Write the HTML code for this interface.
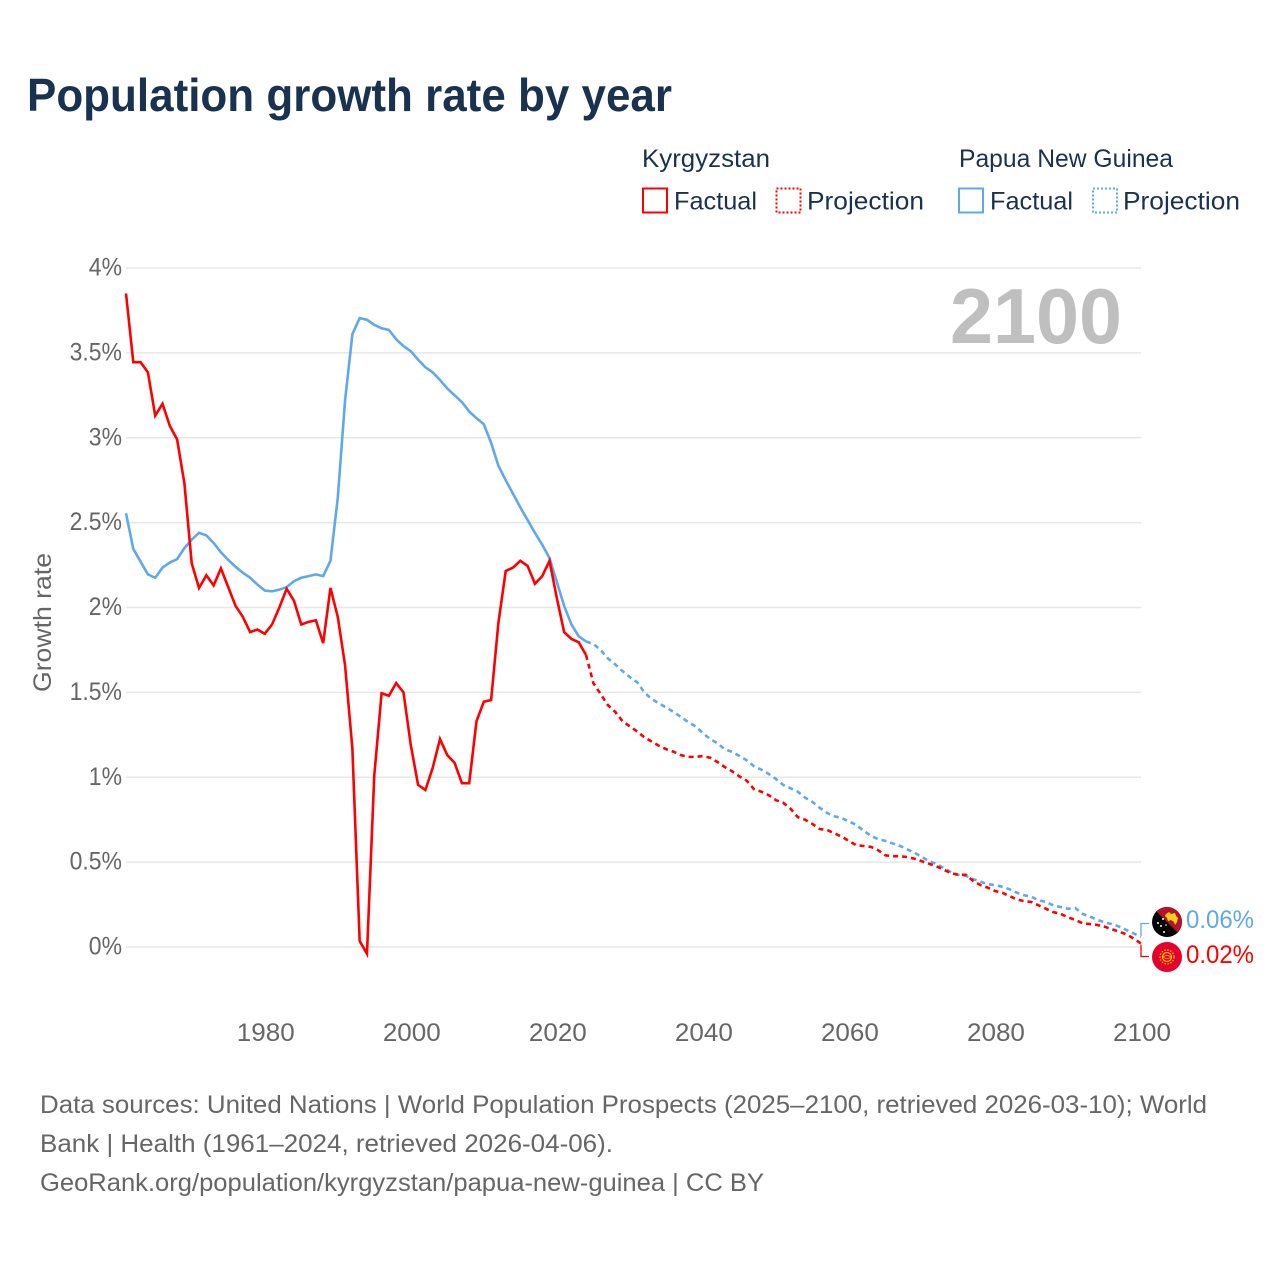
<!DOCTYPE html>
<html lang="en">
<head>
<meta charset="utf-8">
<title>Population growth rate by year</title>
<style>
  html, body { margin: 0; padding: 0; background: #fff; }
  svg { display: block; font-family: "Liberation Sans", sans-serif; }
  .legend { fill: #18324f; font-size: 25px; }
  .tick { fill: #666; font-size: 25px; }
  .foot { fill: #666; font-size: 25px; }
</style>
</head>
<body>
<svg id="chart" width="1280" height="1280" viewBox="0 0 1280 1280" xmlns="http://www.w3.org/2000/svg">
  <rect width="1280" height="1280" fill="#fff"/>
  <text x="27" y="111" font-size="46" font-weight="bold" fill="#18324f" textLength="645" lengthAdjust="spacingAndGlyphs">Population growth rate by year</text>

  <g>
    <text class="legend" x="642" y="167" textLength="128" lengthAdjust="spacingAndGlyphs">Kyrgyzstan</text>
    <text class="legend" x="959" y="167" textLength="214" lengthAdjust="spacingAndGlyphs">Papua New Guinea</text>
    <g>
      <rect x="643" y="188.500" width="24" height="24" fill="none" stroke="#ff0000" stroke-width="2"/>
      <text class="legend" x="674" y="209.500" textLength="83" lengthAdjust="spacingAndGlyphs">Factual</text>
    </g>
    <g>
      <rect x="776.500" y="188.500" width="24" height="24" fill="none" stroke="#ff0000" stroke-width="2" stroke-dasharray="2 2"/>
      <text class="legend" x="807" y="209.500" textLength="117" lengthAdjust="spacingAndGlyphs">Projection</text>
    </g>
    <g>
      <rect x="959" y="188.500" width="24" height="24" fill="none" stroke="#5fa8ee" stroke-width="2"/>
      <text class="legend" x="990" y="209.500" textLength="83" lengthAdjust="spacingAndGlyphs">Factual</text>
    </g>
    <g>
      <rect x="1093" y="188.500" width="24" height="24" fill="none" stroke="#5fa8ee" stroke-width="2" stroke-dasharray="2 2"/>
      <text class="legend" x="1123" y="209.500" textLength="117" lengthAdjust="spacingAndGlyphs">Projection</text>
    </g>
  </g>

  <g id="grid"></g>
  <g id="yticks"></g>
  <g id="xticks"></g>

  <text transform="translate(51,692) rotate(-90)" font-size="25" fill="#666" textLength="139" lengthAdjust="spacingAndGlyphs">Growth rate</text>
  <text x="1122" y="343" text-anchor="end" font-size="78" font-weight="bold" fill="#bfbfbf" textLength="172" lengthAdjust="spacingAndGlyphs">2100</text>

  <g id="series"></g>

  <defs>
    <clipPath id="flag-clip-pg"><circle cx="1167" cy="922" r="15"/></clipPath>
    <clipPath id="flag-clip-kg"><circle cx="1167" cy="957" r="15"/></clipPath>
  </defs>

  <g clip-path="url(#flag-clip-pg)">
    <rect x="1152" y="907" width="30" height="30" fill="#000"/>
    <polygon points="1152,907 1182,907 1182,937" fill="#b5122b"/>
    <path d="M1166,914 l3,-2 2,2 4,-1 1,3 2,2 -1,4 -2,3 -1,-3 -3,-2 -3,1 -1,-3 -2,-2z" fill="#fcd116"/>
    <g fill="#fff">
      <circle cx="1158" cy="923" r="1"/><circle cx="1163" cy="919" r="1"/>
      <circle cx="1161" cy="926" r="1"/><circle cx="1166" cy="925" r=".8"/>
      <circle cx="1164" cy="932" r="1"/>
    </g>
  </g>
  <g clip-path="url(#flag-clip-kg)">
    <rect x="1152" y="942" width="30" height="30" fill="#e4002b"/>
    <circle cx="1167" cy="957" r="4.500" fill="none" stroke="#f7c600" stroke-width="1.200"/>
    <circle cx="1167" cy="957" r="7" fill="none" stroke="#f7c600" stroke-width="1.400" stroke-dasharray="1.500 1.500"/>
    <path d="M1163,957 q4,-3 8,0 M1163,957 q4,3 8,0" fill="none" stroke="#f7c600" stroke-width=".7"/>
  </g>

  <g id="end-labels"></g>

  <g>
    <text class="foot" x="40" y="1113" textLength="1167" lengthAdjust="spacingAndGlyphs">Data sources: United Nations | World Population Prospects (2025–2100, retrieved 2026-03-10); World</text>
    <text class="foot" x="40" y="1152" textLength="573" lengthAdjust="spacingAndGlyphs">Bank | Health (1961–2024, retrieved 2026-04-06).</text>
    <text class="foot" x="40" y="1191" textLength="724" lengthAdjust="spacingAndGlyphs">GeoRank.org/population/kyrgyzstan/papua-new-guinea | CC BY</text>
  </g>
</svg>

<script>
// Tick labels
const yTickValues = [0, 0.5, 1, 1.5, 2, 2.5, 3, 3.5, 4];
const xTickYears = [1980, 2000, 2020, 2040, 2060, 2080, 2100];

// Kyrgyzstan factual, 1961 to 2024
const kgFactual = [
  3.85, 3.445, 3.445, 3.385, 3.13, 3.2, 3.07, 2.99, 2.73, 2.26,
  2.115, 2.19, 2.13, 2.23, 2.12, 2.01, 1.945, 1.855, 1.87, 1.845,
  1.9, 2.0, 2.11, 2.04, 1.9, 1.915, 1.925, 1.79, 2.115, 1.945,
  1.66, 1.17, 0.035, -0.04, 1.01, 1.495, 1.48, 1.555, 1.5, 1.19,
  0.955, 0.925, 1.055, 1.225, 1.13, 1.085, 0.965, 0.965, 1.33, 1.445,
  1.455, 1.91, 2.215, 2.235, 2.275, 2.245, 2.14, 2.185, 2.275, 2.055,
  1.855, 1.815, 1.795, 1.72
];
// Kyrgyzstan projection, 2024 to 2100
const kgProjection = [
  1.72, 1.555, 1.49, 1.425, 1.385, 1.33, 1.3, 1.27, 1.235, 1.21,
  1.185, 1.165, 1.15, 1.13, 1.12, 1.12, 1.125, 1.115, 1.09, 1.06,
  1.035, 1.005, 0.98, 0.93, 0.915, 0.895, 0.865, 0.85, 0.815, 0.765,
  0.75, 0.725, 0.695, 0.69, 0.67, 0.65, 0.625, 0.6, 0.595, 0.59,
  0.57, 0.54, 0.535, 0.535, 0.53, 0.52, 0.505, 0.49, 0.475, 0.455,
  0.435, 0.425, 0.425, 0.39, 0.365, 0.35, 0.33, 0.32, 0.3, 0.28,
  0.27, 0.265, 0.245, 0.225, 0.205, 0.195, 0.175, 0.16, 0.14, 0.135,
  0.13, 0.12, 0.105, 0.09, 0.075, 0.05, 0.02
];
// Papua New Guinea factual, 1961 to 2024
const pgFactual = [
  2.555, 2.345, 2.27, 2.195, 2.175, 2.235, 2.265, 2.285, 2.35, 2.4,
  2.44, 2.425, 2.38, 2.325, 2.28, 2.24, 2.205, 2.175, 2.135, 2.1,
  2.095, 2.105, 2.12, 2.155, 2.175, 2.185, 2.195, 2.185, 2.275, 2.645,
  3.22, 3.61, 3.705, 3.695, 3.665, 3.645, 3.635, 3.58, 3.54, 3.51,
  3.46, 3.415, 3.385, 3.34, 3.29, 3.25, 3.21, 3.155, 3.115, 3.08,
  2.97, 2.835, 2.75, 2.67, 2.59, 2.515, 2.44, 2.37, 2.29, 2.15,
  2.01, 1.9, 1.83, 1.8
];
// Papua New Guinea projection, 2024 to 2100
const pgProjection = [
  1.8, 1.785, 1.75, 1.7, 1.665, 1.625, 1.59, 1.56, 1.5, 1.46,
  1.435, 1.41, 1.385, 1.355, 1.325, 1.3, 1.26, 1.225, 1.2, 1.165,
  1.15, 1.125, 1.1, 1.065, 1.045, 1.02, 0.99, 0.955, 0.935, 0.915,
  0.88, 0.855, 0.82, 0.79, 0.77, 0.76, 0.74, 0.72, 0.685, 0.655,
  0.635, 0.625, 0.61, 0.595, 0.575, 0.555, 0.53, 0.505, 0.49, 0.465,
  0.44, 0.425, 0.42, 0.4, 0.385, 0.37, 0.365, 0.355, 0.34, 0.32,
  0.305, 0.295, 0.275, 0.265, 0.245, 0.235, 0.225, 0.23, 0.195, 0.18,
  0.16, 0.145, 0.135, 0.12, 0.1, 0.08, 0.06
];
const factualStartYear = 1961;
const projectionStartYear = 2024;

const NS = 'http://www.w3.org/2000/svg';
const xScale = year => 126 + (year - 1961) * (1141 - 126) / (2100 - 1961);
const yScale = value => 947 - value * (947 - 268) / 4;
const RED = '#ff0000';
const BLUE = '#5fa8ee';

function make(tag, attrs, parent, text) {
  const el = document.createElementNS(NS, tag);
  for (const k in attrs) el.setAttribute(k, attrs[k]);
  if (text !== undefined) el.textContent = text;
  parent.appendChild(el);
  return el;
}

function fitWidth(el, factor) {
  el.setAttribute('textLength', (el.getComputedTextLength() * factor).toFixed(1));
  el.setAttribute('lengthAdjust', 'spacingAndGlyphs');
}

const gridGroup = document.getElementById('grid');
const yTickGroup = document.getElementById('yticks');
const xTickGroup = document.getElementById('xticks');
const seriesGroup = document.getElementById('series');
const endGroup = document.getElementById('end-labels');

yTickValues.forEach(v => {
  const line = make('line', { x1: 126, x2: 1141, y1: yScale(v), y2: yScale(v), stroke: '#e7e7e7', 'stroke-width': 1.4 }, gridGroup);
  
  
  const label = make('text', { x: 122, y: yScale(v) + 7.5, 'text-anchor': 'end', class: 'tick' }, yTickGroup, v + '%');
  
  
  fitWidth(label, 0.92);
});

xTickYears.forEach(year => {
  const label = make('text', { x: xScale(year) + 1, y: 1041, 'text-anchor': 'middle', class: 'tick' }, xTickGroup, String(year));
  
  
  fitWidth(label, 1.04);
});

function pathFor(values, startYear) {
  return values.map((v, i) => (i ? 'L' : 'M') + xScale(startYear + i).toFixed(2) + ',' + yScale(v).toFixed(2)).join(' ');
}

function drawSeries(values, startYear, color, dashed) {
  const attrs = { d: pathFor(values, startYear), fill: 'none', stroke: color, 'stroke-width': 2.6, 'stroke-linejoin': 'miter' };
  if (dashed) attrs['stroke-dasharray'] = '5 4';
  return make('path', attrs, seriesGroup);
}

const pgFactualLine = drawSeries(pgFactual, factualStartYear, BLUE, false);


const pgProjectionLine = drawSeries(pgProjection, projectionStartYear, BLUE, true);


const kgFactualLine = drawSeries(kgFactual, factualStartYear, RED, false);


const kgProjectionLine = drawSeries(kgProjection, projectionStartYear, RED, true);



const pgLast = pgProjection[pgProjection.length - 1];
const kgLast = kgProjection[kgProjection.length - 1];

const pgConnector = make('path', { d: 'M1141,' + (yScale(pgLast) - 1).toFixed(1) + ' V923.500 H1149', fill: 'none', stroke: BLUE, 'stroke-width': 1.3 }, endGroup);


const kgConnector = make('path', { d: 'M1141,' + (yScale(kgLast) + 1).toFixed(1) + ' V956.500 H1149', fill: 'none', stroke: RED, 'stroke-width': 1.3 }, endGroup);



const pgEndLabel = make('text', { x: 1186, y: 928, 'font-size': 25, fill: BLUE, textLength: 68, lengthAdjust: 'spacingAndGlyphs' }, endGroup, pgLast.toFixed(2) + '%');


const kgEndLabel = make('text', { x: 1186, y: 963, 'font-size': 25, fill: RED, textLength: 68, lengthAdjust: 'spacingAndGlyphs' }, endGroup, kgLast.toFixed(2) + '%');


</script>
</body>
</html>
